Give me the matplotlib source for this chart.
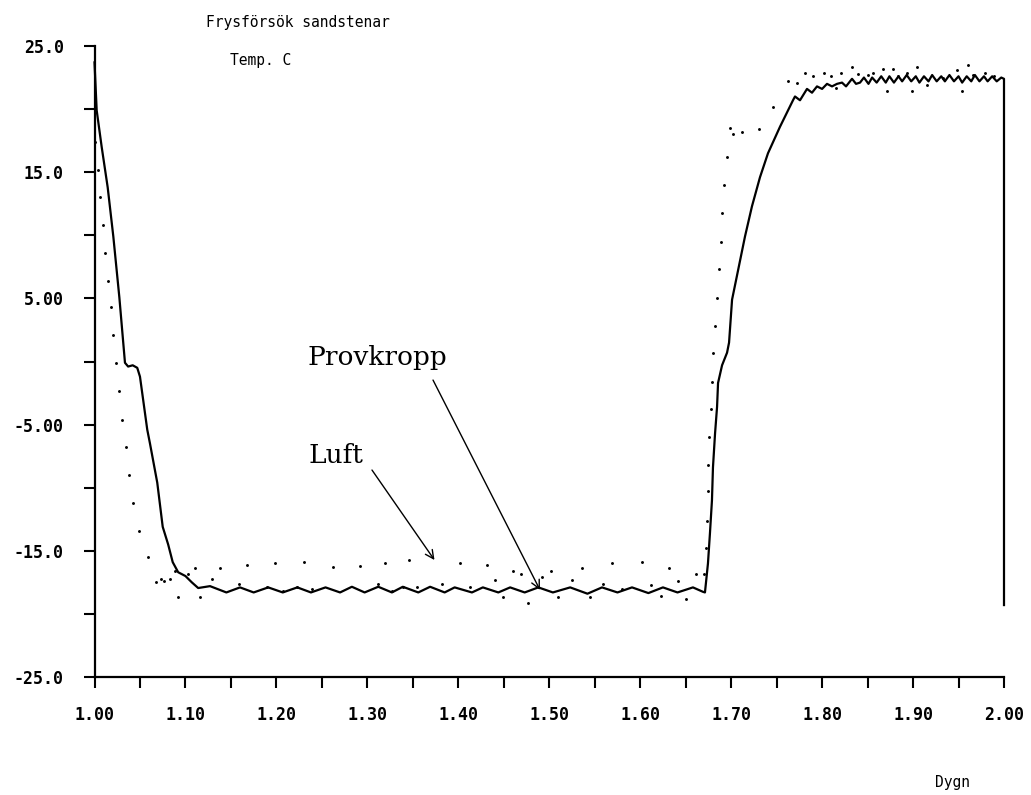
import matplotlib
matplotlib.use("Agg")
import matplotlib.pyplot as plt

# Provkropp (solid line)
prov_x = [1.000, 1.0024, 1.0079, 1.0145, 1.0207, 1.0273, 1.0335, 1.037, 1.042, 1.047, 1.050,
          1.058, 1.061, 1.069, 1.075, 1.081, 1.086, 1.092, 1.100, 1.107, 1.114,
          1.127, 1.145, 1.160, 1.175, 1.191, 1.207, 1.223, 1.238, 1.254, 1.270,
          1.283, 1.297, 1.312, 1.327, 1.339, 1.356, 1.369, 1.385, 1.396, 1.415,
          1.427, 1.444, 1.457, 1.473, 1.488, 1.504, 1.523, 1.542, 1.558, 1.575,
          1.591, 1.609, 1.625, 1.641, 1.658, 1.669,
          1.6712, 1.6745, 1.6767, 1.6789, 1.6800, 1.6823, 1.6845, 1.6856, 1.6900,
          1.6955, 1.6977, 1.7010, 1.7152, 1.7229, 1.7317, 1.7405, 1.7537, 1.7680,
          1.7702, 1.7757, 1.7834, 1.7889, 1.7944, 1.8000, 1.8054, 1.8109, 1.8164,
          1.8219, 1.8263, 1.8329, 1.8373, 1.8417,
          1.846, 1.851, 1.855, 1.860, 1.865, 1.870, 1.874, 1.879, 1.884, 1.888,
          1.893, 1.898, 1.903, 1.907, 1.912, 1.917, 1.921, 1.926, 1.931, 1.935,
          1.940, 1.945, 1.950, 1.954, 1.959, 1.964, 1.968, 1.973, 1.978, 1.982,
          1.987, 1.992, 1.997, 2.000, 2.000]
prov_y = [23.7, 19.9, 17.0, 13.8, 9.9, 5.1, -0.1, -0.4, -0.3, -0.5, -1.2,
          -5.4, -6.5, -9.6, -13.1, -14.5, -15.9, -16.7, -17.0, -17.5, -17.95,
          -17.8, -18.3, -17.9, -18.3, -17.9, -18.3, -17.9, -18.3, -17.9, -18.3,
          -17.85, -18.3, -17.85, -18.3, -17.85, -18.3, -17.85, -18.3, -17.9, -18.3,
          -17.9, -18.3, -17.9, -18.3, -17.9, -18.3, -17.9, -18.4, -17.9, -18.3,
          -17.9, -18.35, -17.9, -18.3, -17.9, -18.25,
          -18.3, -16.0, -13.6, -11.0, -8.4, -5.7, -3.6, -1.7, -0.3,
          0.7, 1.5, 4.9, 9.9, 12.3, 14.6, 16.5, 18.6, 20.7,
          21.0, 20.7, 21.6, 21.3, 21.8, 21.6, 22.0, 21.8, 22.0,
          22.1, 21.8, 22.4, 22.0, 22.1,
          22.5, 22.0, 22.5, 22.1, 22.6, 22.1, 22.6, 22.1, 22.6, 22.2,
          22.7, 22.2, 22.6, 22.1, 22.6, 22.2, 22.7, 22.2, 22.6, 22.2,
          22.7, 22.2, 22.6, 22.1, 22.6, 22.2, 22.7, 22.2, 22.6, 22.2,
          22.6, 22.2, 22.5, 22.4, -19.3]

# Luft (dotted)
luft_x = [1.001, 1.0038, 1.0060, 1.0093, 1.0115, 1.0148, 1.0181, 1.0203, 1.0236, 1.0269,
          1.0302, 1.0346, 1.0379, 1.0423, 1.0489, 1.0588, 1.0676, 1.0731, 1.0764, 1.0830,
          1.0885, 1.0918, 1.1028, 1.1105, 1.1160, 1.1292, 1.1380, 1.1589, 1.1677, 1.1897,
          1.1985, 1.2073, 1.2227, 1.2304, 1.2392, 1.2623, 1.2919, 1.3117, 1.3194, 1.3271,
          1.3392, 1.3458, 1.3546, 1.3821, 1.4019, 1.4129, 1.4316, 1.4404, 1.4492, 1.4602,
          1.4690, 1.4767, 1.4921, 1.5019, 1.5096, 1.5250, 1.5360, 1.5448, 1.5591, 1.5690,
          1.5800, 1.6020, 1.6119, 1.6229, 1.6317, 1.6416, 1.6504, 1.6614, 1.6702, 1.6724,
          1.6735, 1.6740, 1.6745, 1.6756, 1.6778, 1.6789, 1.6800, 1.6823, 1.6845, 1.6867,
          1.6889, 1.6900, 1.6922, 1.6955, 1.6987, 1.7021, 1.7119, 1.7306, 1.7460, 1.7625,
          1.7724, 1.7812, 1.7900, 1.8021, 1.8098, 1.8153, 1.8208, 1.8329, 1.8395, 1.8505,
          1.8560, 1.8670, 1.8714, 1.8780, 1.8835, 1.8934, 1.8989, 1.9044, 1.9154, 1.9330,
          1.9483, 1.9538, 1.9604, 1.9659, 1.9791, 1.9890]
luft_y = [17.4, 15.2, 13.0, 10.8, 8.6, 6.4, 4.3, 2.1, -0.1, -2.3,
          -4.6, -6.8, -9.0, -11.2, -13.4, -15.5, -17.5, -17.2, -17.4, -17.2,
          -16.6, -18.7, -16.8, -16.4, -18.7, -17.2, -16.4, -17.6, -16.1, -17.9,
          -16.0, -18.2, -17.9, -15.9, -18.0, -16.3, -16.2, -17.6, -16.0, -18.2,
          -17.9, -15.7, -17.9, -17.6, -16.0, -17.9, -16.1, -17.3, -18.7, -16.6,
          -16.8, -19.1, -17.1, -16.6, -18.7, -17.3, -16.4, -18.7, -17.6, -16.0,
          -18.0, -15.9, -17.7, -18.6, -16.4, -17.4, -18.8, -16.8, -16.8, -14.8,
          -12.6, -10.3, -8.2, -6.0, -3.8, -1.6, 0.7, 2.8, 5.0, 7.3,
          9.5, 11.8, 14.0, 16.2, 18.5, 18.0, 18.2, 18.4, 20.2, 22.2,
          22.1, 22.9, 22.6, 22.9, 22.6, 21.7, 22.9, 23.3, 22.8, 22.7,
          22.9, 23.2, 21.4, 23.2, 22.6, 22.9, 21.4, 23.3, 21.9, 22.5,
          23.1, 21.4, 23.5, 22.7, 22.9, 22.6]

x_ticks = [1.00, 1.10, 1.20, 1.30, 1.40, 1.50, 1.60, 1.70, 1.80, 1.90, 2.00]
x_labels = ["1.00", "1.10", "1.20", "1.30", "1.40", "1.50", "1.60", "1.70", "1.80", "1.90", "2.00"]
y_ticks = [25, 15, 5, -5, -15, -25]
y_labels = ["25.0", "15.0", "5.00", "-5.00", "-15.0", "-25.0"]

W, H = 1031, 795
fig = plt.figure(figsize=(W / 100, H / 100), dpi=100)
ax = fig.add_axes([94.5 / W, 1 - 677 / H, (1004 - 94.5) / W, (677 - 46) / H])

ax.plot(prov_x, prov_y, color="black", lw=1.6, solid_joinstyle="round", clip_on=False)
ax.plot(luft_x, luft_y, "o", color="black", ms=2.1, mew=0, clip_on=False)

ax.set_xlim(1.0, 2.0)
ax.set_ylim(-25, 25)
ax.spines["top"].set_visible(False)
ax.spines["right"].set_visible(False)
for s in ["left", "bottom"]:
    ax.spines[s].set_linewidth(1.6)

mono = {"family": "DejaVu Sans Mono", "weight": "bold", "size": 12}
ax.set_xticks(x_ticks)
ax.set_xticklabels(x_labels, fontdict=mono)
ax.set_xticks([1.05 + 0.1 * i for i in range(10)], minor=True)
ax.set_yticks(y_ticks)
ax.set_yticklabels(y_labels, fontdict=mono)
ax.set_yticks([20, 10, 0, -10, -20], minor=True)
ax.tick_params(which="both", direction="out", length=8, width=1.5, color="black")
ax.tick_params(axis="x", which="major", pad=13)
ax.tick_params(axis="y", which="major", pad=14)

thin = {"family": "DejaVu Sans Mono", "size": 10.5}
fig.text(206 / W, 1 - 23 / H, "Frysförsök sandstenar", va="center", ha="left", **thin)
fig.text(230 / W, 1 - 60 / H, "Temp. C", va="center", ha="left", **thin)
fig.text(935 / W, 1 - 783 / H, "Dygn", va="center", ha="left", **thin)

# typewriter labels added by hand on the original
serif = {"family": "DejaVu Serif", "size": 19}
ax.text(1.2337, -0.28, "Provkropp", va="baseline", ha="left", **serif)
ax.text(1.2348, -8.04, "Luft", va="baseline", ha="left", **serif)
ax.annotate("", xy=(1.3738, -15.73), xytext=(1.3051, -8.6),
            arrowprops=dict(arrowstyle="->", lw=1.0, color="black", shrinkA=0, shrinkB=0,
                            mutation_scale=15))
ax.annotate("", xy=(1.4898, -18.1), xytext=(1.3722, -1.47),
            arrowprops=dict(arrowstyle="->", lw=1.0, color="black", shrinkA=0, shrinkB=0,
                            mutation_scale=15))

fig.savefig("out.png", dpi=100)
